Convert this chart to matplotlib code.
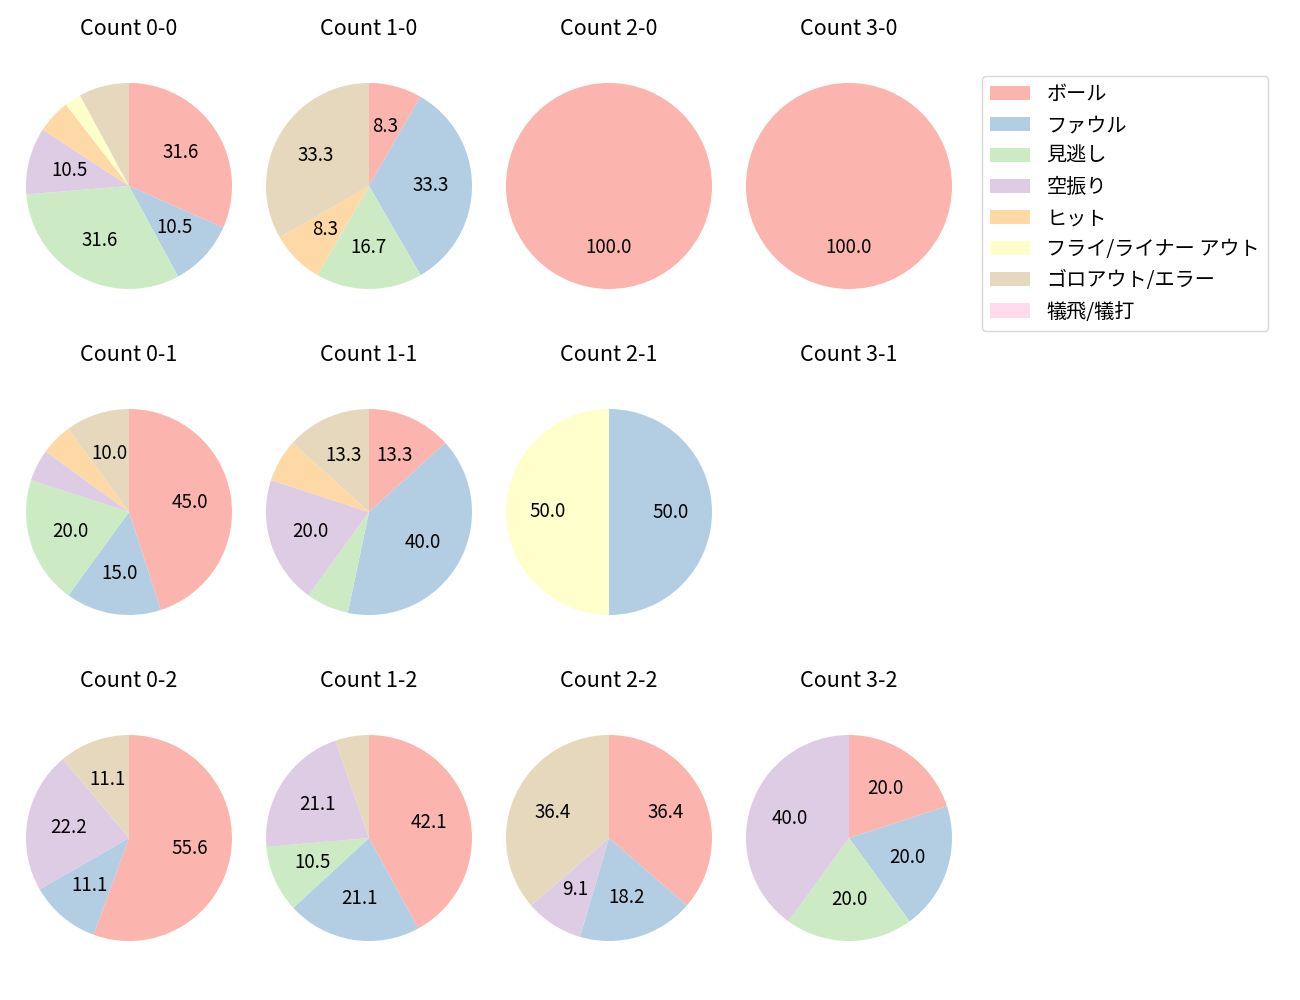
import matplotlib

matplotlib.use("Agg")
import matplotlib.pyplot as plt
import matplotlib.patches as mpatches

plt.rcParams["font.family"] = ["Noto Sans CJK JP", "DejaVu Sans"]
plt.rcParams["font.size"] = 13.5

# ---- data: share of pitch results per ball-strike count (percent) ----------
CATEGORIES = ["ボール", "ファウル", "見逃し", "空振り", "ヒット",
              "フライ/ライナー アウト", "ゴロアウト/エラー", "犠飛/犠打"]

C_0_0 = [31.6, 10.5, 31.6, 10.5, 5.3, 2.6, 7.9, 0]
C_1_0 = [8.3, 33.3, 16.7, 0, 8.3, 0, 33.3, 0]
C_2_0 = [100, 0, 0, 0, 0, 0, 0, 0]
C_3_0 = [100, 0, 0, 0, 0, 0, 0, 0]
C_0_1 = [45.0, 15.0, 20.0, 5.0, 5.0, 0, 10.0, 0]
C_1_1 = [13.3, 40.0, 6.7, 20.0, 6.7, 0, 13.3, 0]
C_2_1 = [0, 50.0, 0, 0, 0, 50.0, 0, 0]
C_3_1 = [0, 0, 0, 0, 0, 0, 0, 0]
C_0_2 = [55.6, 11.1, 0, 22.2, 0, 0, 11.1, 0]
C_1_2 = [42.1, 21.1, 10.5, 21.1, 0, 0, 5.3, 0]
C_2_2 = [36.4, 18.2, 0, 9.1, 0, 0, 36.4, 0]
C_3_2 = [20.0, 20.0, 20.0, 40.0, 0, 0, 0, 0]

GRID = [
    [("0-0", C_0_0), ("1-0", C_1_0), ("2-0", C_2_0), ("3-0", C_3_0)],
    [("0-1", C_0_1), ("1-1", C_1_1), ("2-1", C_2_1), ("3-1", C_3_1)],
    [("0-2", C_0_2), ("1-2", C_1_2), ("2-2", C_2_2), ("3-2", C_3_2)],
]

COLORS = plt.get_cmap("Pastel1").colors[:len(CATEGORIES)]

AX_W, AX_H = 240, 286      # axes size in px
XR = 1.165                 # half x-range in pie units


def pct_label(pct):
    # small slices stay unlabeled
    return f"{pct:.1f}" if pct >= 8 else ""


def main():
    fig, axes = plt.subplots(3, 4, figsize=(13, 10), dpi=100)
    fig.subplots_adjust(left=9 / 1300, right=969 / 1300, top=0.957,
                        bottom=0.019, wspace=0.0, hspace=0.14)

    for r, row in enumerate(GRID):
        for c, (name, vals) in enumerate(row):
            ax = axes[r][c]
            ax.set_title(f"Count {name}", fontsize=15.5)
            if sum(vals) == 0:
                ax.axis("off")
                continue
            ax.pie(vals, colors=COLORS, startangle=90, counterclock=False,
                   autopct=pct_label, textprops={"fontsize": 13.5})
            ax.set_aspect("equal", adjustable="datalim")
            ax.set_xlim(-XR, XR)
            ax.set_ylim(-XR * AX_H / AX_W, XR * AX_H / AX_W)

    handles = [mpatches.Patch(facecolor=col) for col in COLORS]
    fig.legend(handles, CATEGORIES, loc="upper left", fontsize=14.5,
               bbox_to_anchor=(982 / 1300, 1 - 76 / 1000), borderaxespad=0)

    fig.savefig("out.png", dpi=100)


if __name__ == "__main__":
    main()
